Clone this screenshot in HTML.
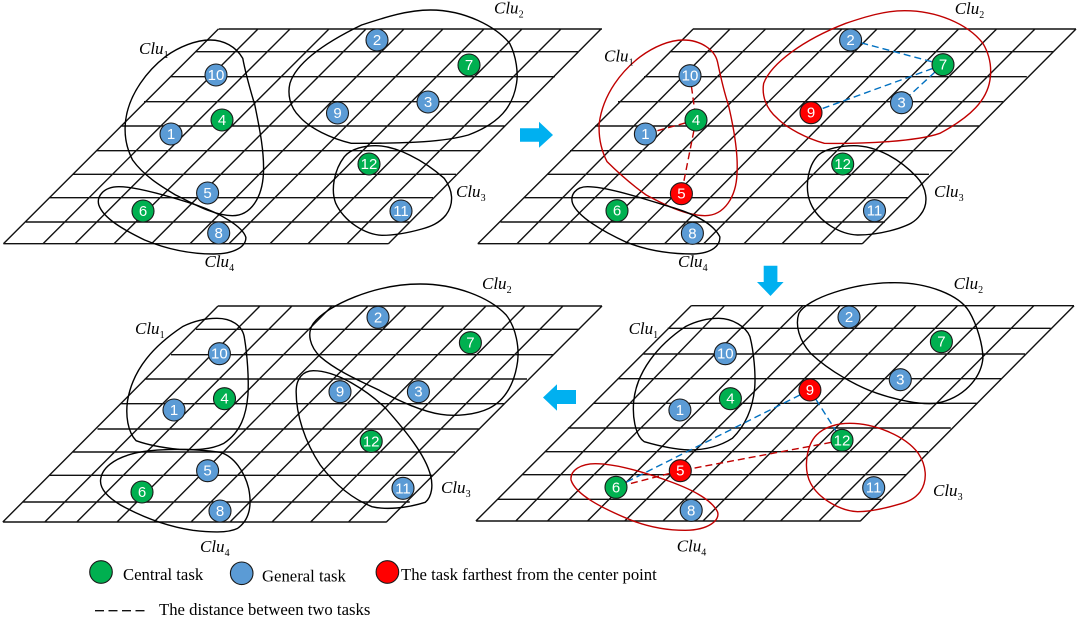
<!DOCTYPE html>
<html><head><meta charset="utf-8"><style>
html,body{margin:0;padding:0;background:#fff}
svg{display:block}
.g{fill:none;stroke:#111;stroke-width:1.4}
.b{fill:none;stroke:#000;stroke-width:1.4}
.r{fill:none;stroke:#c00000;stroke-width:1.4}
.b path,.r path{vector-effect:non-scaling-stroke}
.db{stroke:#0070c0;stroke-width:1.4;stroke-dasharray:7 4;fill:none}
.dr{stroke:#c00000;stroke-width:1.4;stroke-dasharray:7 4;fill:none}
circle{stroke:#1a1a1a;stroke-width:1.1}
.B{fill:#5b9bd5}.G{fill:#00b050}.R{fill:#ff0000}
.n{font:15px "Liberation Sans",sans-serif;fill:#fff;text-anchor:middle}
.c{font:italic 17px "Liberation Serif",serif;fill:#000}
.c tspan{font-size:10px;font-style:normal}
.t{font:16.7px "Liberation Serif",serif;fill:#000}
</style></head><body>
<svg width="1084" height="622" viewBox="0 0 1084 622" xmlns="http://www.w3.org/2000/svg">
<!-- grids -->
<path class="g" d="M218.7 29H602M195.6 51.7H578M170.5 76.7H555M144 101.7H529M120.5 126H505M96.8 150.7H480M73 174.3H456M50 197.7H433M25.8 222H409.5M3.4 243.7H388.4
M3.4 243.7L218.4 29M43 243.7L258 29M75 243.7L290 29M114 243.7L329 29M151.5 243.7L366 29M190 243.7L404 29M229 243.7L443 29M270 243.7L484 29M308 243.7L522 29M347 243.7L561 29M388.4 243.7L601 29"/>
<path class="g" d="M693 29H1076M669.7 51.7H1053.4M644 76.7H1026.8M618 101.7H1003M595 126H979M570 150.7H952.4M547 174.3H929M523.6 197.7H907.7M500.5 222H885M477.8 243.7H862.3
M477.8 243.7L693.2 29M517 243.7L730 29M548.3 243.7L765.6 29M588.6 243.7L804.8 29M625.4 243.7L842 29M664.6 243.7L877 29M703.7 243.7L916 29M744 243.7L958.6 29M782 243.7L996.6 29M820.4 243.7L1035 29M862.3 243.7L1076 29"/>
<path class="g" d="M218 306H602M196 329.3H578.7M171 354.7H553.4M144.6 379H527M121 403.7H504.5M97.5 429H479.3M73 452H455M49 475.3H433M22.4 502H409.8M2.8 522H386.4
M2.8 522L218 306M44.8 522L260 306M76.8 522L292 306M117 522L332 306M154 522L368 306M191 522L406 306M230 522L444 306M272 522L486 306M310.6 522L525 306M348.5 522L563 306M386.4 522L602 306"/>
<path class="g" d="M691.2 305.7H1074M667.7 328.3H1050.7M643.5 354H1025M617.6 378.7H1001.3M593.3 403.3H977.8M567.9 428H950.8M545 451.7H928M522 474.7H906.6M498 499.3H881M475.9 521H860.4
M475.9 521L691.2 305.7M515.8 521L724.5 305.7M547.5 521L763.6 305.7M587.5 521L802.8 305.7M624.7 521L840 305.7M663 521L877 305.7M703 521L916 305.7M743 521L957.5 305.7M780.5 521L995.4 305.7M819 521L1033.8 305.7M860.4 521L1074 305.7"/>
<!-- panel 1 blobs -->
<g class="b" transform="scale(.34435,.33333)">
<path d="M610,120 C650,120 685,140 705,175 C715,230 730,280 740,315 C755,390 768,460 765,520 C762,590 730,647 675,647 C620,647 560,610 510,585 C470,560 420,530 385,480 C365,440 360,400 365,360 C375,280 430,210 480,170 C520,140 570,120 610,120 Z"/>
<path d="M1250,30 C1350,30 1440,80 1480,130 C1500,170 1505,220 1500,250 C1490,320 1450,370 1360,405 C1290,425 1200,430 1020,430 C960,415 900,385 870,350 C840,320 835,280 842,250 C860,190 940,130 1050,75 C1110,55 1180,30 1250,30 Z"/>
<path d="M1090,437 C1150,437 1230,480 1290,535 C1315,570 1320,610 1295,645 C1275,670 1250,680 1225,687 C1180,700 1140,706 1110,706 C1060,704 1000,665 975,610 C960,570 970,510 1000,470 C1020,445 1060,437 1090,437 Z"/>
<path d="M345,560 C300,560 280,590 287,615 C300,655 360,690 420,720 C490,750 560,762 620,762 C680,762 715,740 714,712 C705,680 640,640 570,615 C510,595 400,560 345,560 Z"/>
</g>
<!-- panel 2 blobs -->
<g class="r" transform="translate(470,0) scale(.39154,.33333)">
<path d="M545,120 C590,120 625,150 632,185 C640,230 650,280 660,315 C675,390 685,460 682,520 C680,590 650,647 600,647 C550,647 490,610 450,585 C420,560 380,520 350,485 C335,450 328,410 330,370 C340,280 390,210 435,170 C470,140 510,120 545,120 Z"/>
<path d="M1110,32 C1190,32 1270,70 1310,130 C1330,170 1332,210 1328,240 C1320,300 1280,350 1200,400 C1140,425 1000,432 905,430 C860,415 810,385 785,355 C755,325 745,285 750,250 C770,190 850,120 960,70 C1010,50 1060,32 1110,32 Z"/>
</g>
<g class="b" transform="translate(470,0) scale(.39154,.33333)">
<path d="M980,437 C1040,437 1100,480 1140,530 C1165,560 1175,610 1150,645 C1135,668 1120,675 1095,685 C1060,698 1020,705 990,705 C945,703 890,665 870,610 C855,570 860,500 890,465 C910,445 950,437 980,437 Z"/>
<path d="M300,560 C270,560 255,585 262,610 C275,650 340,695 400,727 C450,750 510,762 570,762 C620,760 640,735 638,710 C620,670 570,640 510,620 C440,595 350,560 300,560 Z"/>
</g>
<!-- panel 3 blobs -->
<g class="b" transform="translate(0,275) scale(.34435,.33333)">
<path d="M630,130 C670,130 705,150 710,190 C718,240 723,310 720,360 C715,420 700,470 650,505 C610,525 570,525 520,523 C470,518 430,510 395,497 C370,470 365,420 370,380 C385,280 450,210 530,155 C565,137 600,130 630,130 Z"/>
<path d="M1220,27 C1320,27 1420,65 1470,120 C1500,160 1508,220 1503,260 C1495,320 1470,375 1420,400 C1380,420 1320,425 1280,418 C1230,410 1160,380 1100,345 C1050,320 980,290 930,245 C900,215 890,175 910,145 C950,90 1090,27 1220,27 Z"/>
<path d="M910,287 C880,287 860,310 860,350 C860,420 885,500 930,570 C970,625 1020,670 1080,695 C1120,705 1180,700 1235,682 C1255,665 1258,630 1250,600 C1235,540 1180,470 1120,400 C1070,350 980,287 910,287 Z"/>
<path d="M640,532 C680,545 710,590 722,640 C732,690 725,735 690,760 C660,775 610,772 560,766 C490,755 420,730 350,690 C310,665 290,640 292,615 C295,580 330,550 390,535 C450,520 560,520 640,532 Z"/>
</g>
<!-- panel 4 blobs -->
<g class="b" transform="translate(470,275) scale(.39154,.33333)">
<path d="M635,130 C670,130 705,155 715,185 C725,230 730,300 727,340 C722,400 705,450 670,490 C630,520 590,525 560,525 C520,523 480,512 445,500 C420,480 415,420 418,380 C425,290 480,210 550,155 C575,140 605,130 635,130 Z"/>
<path d="M1085,23 C1170,23 1250,60 1275,110 C1295,150 1310,210 1310,250 C1305,310 1260,370 1190,385 C1150,390 1090,375 1040,355 C990,335 920,290 870,235 C840,195 830,150 840,115 C860,70 980,23 1085,23 Z"/>
</g>
<g class="r" transform="translate(470,275) scale(.39154,.33333)">
<path d="M970,445 C1030,445 1110,480 1145,535 C1165,570 1170,615 1150,650 C1135,672 1120,680 1095,688 C1060,700 1020,710 990,710 C945,708 890,670 870,625 C850,580 860,510 885,480 C905,455 940,445 970,445 Z"/>
<path d="M320,566 C285,566 255,585 258,615 C270,660 340,700 400,730 C450,755 500,766 550,766 C610,765 640,735 632,710 C615,670 560,640 500,615 C440,590 370,566 320,566 Z"/>
</g>
<!-- dashed connectors -->
<path class="db" d="M850.6 40L943 64.7M943 64.7L901.5 102.7M943 64.7L811 112.7"/>
<path class="dr" d="M690 75.7L696 120M696 120L645.4 134M696 120L681.4 193.7"/>
<path class="db" d="M809.9 390L616 487.3M809.9 390L842 440.3"/>
<path class="dr" d="M842 440.3L680.3 470.7M680.3 470.7L616 487.3"/>
<!-- arrows -->
<polygon fill="#00b0f0" points="520,128.3 539,128.3 539,121.7 553,135 539,147.7 539,141.7 520,141.7"/>
<polygon fill="#00b0f0" points="763.7,265.7 777.4,265.7 777.4,282 783.6,282 770.5,296 757,282 763.7,282"/>
<polygon fill="#00b0f0" points="576,390 557,390 557,384.3 543,397.5 557,410.7 557,404 576,404"/>
<!-- panel 1 nodes -->
<g>
<circle class="B" cx="171" cy="134" r="11"/><text class="n" x="171" y="139">1</text>
<circle class="B" cx="377" cy="40" r="11"/><text class="n" x="377" y="45">2</text>
<circle class="B" cx="428" cy="102" r="11"/><text class="n" x="428" y="107">3</text>
<circle class="G" cx="222" cy="120" r="11"/><text class="n" x="222" y="125">4</text>
<circle class="B" cx="207.6" cy="193" r="11"/><text class="n" x="207.6" y="198">5</text>
<circle class="G" cx="143" cy="211" r="11"/><text class="n" x="143" y="216">6</text>
<circle class="G" cx="469" cy="65" r="11"/><text class="n" x="469" y="70">7</text>
<circle class="B" cx="218.7" cy="233" r="11"/><text class="n" x="218.7" y="238">8</text>
<circle class="B" cx="337.5" cy="113" r="11"/><text class="n" x="337.5" y="118">9</text>
<circle class="B" cx="216" cy="75" r="11"/><text class="n" x="216" y="80">10</text>
<circle class="B" cx="401" cy="211" r="11"/><text class="n" x="401" y="216">11</text>
<circle class="G" cx="369" cy="164" r="11"/><text class="n" x="369" y="169">12</text>
</g>
<!-- panel 2 nodes -->
<g>
<circle class="B" cx="645.4" cy="134" r="11"/><text class="n" x="645.4" y="139">1</text>
<circle class="B" cx="850.6" cy="40" r="11"/><text class="n" x="850.6" y="45">2</text>
<circle class="B" cx="901.5" cy="102.7" r="11"/><text class="n" x="901.5" y="107.7">3</text>
<circle class="G" cx="696" cy="120" r="11"/><text class="n" x="696" y="125">4</text>
<circle class="R" cx="681.4" cy="193.7" r="11"/><text class="n" x="681.4" y="198.7">5</text>
<circle class="G" cx="617" cy="210.7" r="11"/><text class="n" x="617" y="215.7">6</text>
<circle class="G" cx="943" cy="64.7" r="11"/><text class="n" x="943" y="69.7">7</text>
<circle class="B" cx="692.4" cy="233.3" r="11"/><text class="n" x="692.4" y="238.3">8</text>
<circle class="R" cx="811" cy="112.7" r="11"/><text class="n" x="811" y="117.7">9</text>
<circle class="B" cx="690" cy="75.7" r="11"/><text class="n" x="690" y="80.7">10</text>
<circle class="B" cx="874.5" cy="210.7" r="11"/><text class="n" x="874.5" y="215.7">11</text>
<circle class="G" cx="842.7" cy="164" r="11"/><text class="n" x="842.7" y="169">12</text>
</g>
<!-- panel 3 nodes -->
<g>
<circle class="B" cx="174" cy="410" r="11"/><text class="n" x="174" y="415">1</text>
<circle class="B" cx="378" cy="317.3" r="11"/><text class="n" x="378" y="322.3">2</text>
<circle class="B" cx="418.4" cy="391.7" r="11"/><text class="n" x="418.4" y="396.7">3</text>
<circle class="G" cx="224.5" cy="398.7" r="11"/><text class="n" x="224.5" y="403.7">4</text>
<circle class="B" cx="207.6" cy="470.7" r="11"/><text class="n" x="207.6" y="475.7">5</text>
<circle class="G" cx="142" cy="492" r="11"/><text class="n" x="142" y="497">6</text>
<circle class="G" cx="470.4" cy="342.7" r="11"/><text class="n" x="470.4" y="347.7">7</text>
<circle class="B" cx="220" cy="511" r="11"/><text class="n" x="220" y="516">8</text>
<circle class="B" cx="340" cy="391.7" r="11"/><text class="n" x="340" y="396.7">9</text>
<circle class="B" cx="219.4" cy="353.7" r="11"/><text class="n" x="219.4" y="358.7">10</text>
<circle class="B" cx="403" cy="488.3" r="11"/><text class="n" x="403" y="493.3">11</text>
<circle class="G" cx="371.2" cy="441.3" r="11"/><text class="n" x="371.2" y="446.3">12</text>
</g>
<!-- panel 4 nodes -->
<g>
<circle class="B" cx="679.9" cy="410" r="11"/><text class="n" x="679.9" y="415">1</text>
<circle class="B" cx="849" cy="317" r="11"/><text class="n" x="849" y="322">2</text>
<circle class="B" cx="900.3" cy="379.7" r="11"/><text class="n" x="900.3" y="384.7">3</text>
<circle class="G" cx="730.4" cy="398.7" r="11"/><text class="n" x="730.4" y="403.7">4</text>
<circle class="R" cx="680.3" cy="470.7" r="11"/><text class="n" x="680.3" y="475.7">5</text>
<circle class="G" cx="616" cy="487.3" r="11"/><text class="n" x="616" y="492.3">6</text>
<circle class="G" cx="941.4" cy="341.7" r="11"/><text class="n" x="941.4" y="346.7">7</text>
<circle class="B" cx="691.2" cy="510.3" r="11"/><text class="n" x="691.2" y="515.3">8</text>
<circle class="R" cx="809.9" cy="390" r="11"/><text class="n" x="809.9" y="395">9</text>
<circle class="B" cx="725.3" cy="353.7" r="11"/><text class="n" x="725.3" y="358.7">10</text>
<circle class="B" cx="873.7" cy="487.7" r="11"/><text class="n" x="873.7" y="492.7">11</text>
<circle class="G" cx="842" cy="440.3" r="11"/><text class="n" x="842" y="445.3">12</text>
</g>
<!-- cluster labels -->
<text class="c" x="139" y="54">Clu<tspan dy="4">1</tspan></text>
<text class="c" x="494" y="13.5">Clu<tspan dy="4">2</tspan></text>
<text class="c" x="456" y="197">Clu<tspan dy="4">3</tspan></text>
<text class="c" x="204.5" y="267">Clu<tspan dy="4">4</tspan></text>
<text class="c" x="604" y="61.5">Clu<tspan dy="4">1</tspan></text>
<text class="c" x="954.7" y="14">Clu<tspan dy="4">2</tspan></text>
<text class="c" x="934" y="197">Clu<tspan dy="4">3</tspan></text>
<text class="c" x="678" y="267">Clu<tspan dy="4">4</tspan></text>
<text class="c" x="135" y="334">Clu<tspan dy="4">1</tspan></text>
<text class="c" x="482" y="289">Clu<tspan dy="4">2</tspan></text>
<text class="c" x="441" y="493">Clu<tspan dy="4">3</tspan></text>
<text class="c" x="200" y="552">Clu<tspan dy="4">4</tspan></text>
<text class="c" x="628.6" y="334">Clu<tspan dy="4">1</tspan></text>
<text class="c" x="953.6" y="289">Clu<tspan dy="4">2</tspan></text>
<text class="c" x="933" y="496">Clu<tspan dy="4">3</tspan></text>
<text class="c" x="676.7" y="551.7">Clu<tspan dy="4">4</tspan></text>
<!-- legend -->
<circle class="G" cx="101" cy="572" r="11.3"/>
<text class="t" x="123" y="580">Central task</text>
<circle class="B" cx="241.7" cy="573.3" r="11.3"/>
<text class="t" x="262" y="581.5">General task</text>
<circle class="R" cx="387.4" cy="572" r="11.3"/>
<text class="t" x="401" y="580">The task farthest from the center point</text>
<path d="M95 610.7H147" stroke="#111" stroke-width="1.4" stroke-dasharray="9 4.5" fill="none"/>
<text class="t" x="159" y="615">The distance between two tasks</text>
</svg>
</body></html>
